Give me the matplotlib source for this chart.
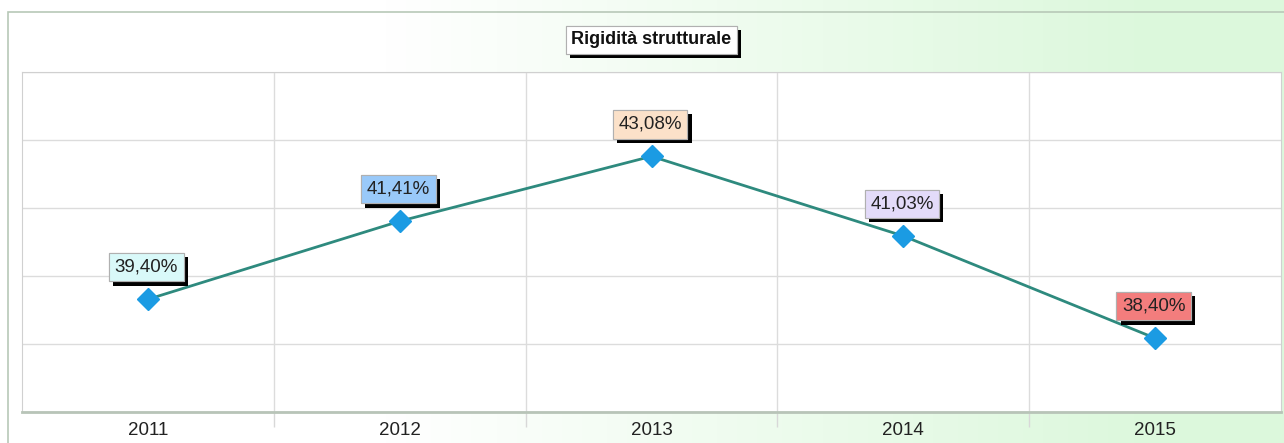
import matplotlib
matplotlib.use('Agg')
import matplotlib.pyplot as plt
import matplotlib.patheffects as pe
import numpy as np

plt.rcParams['font.family'] = ['Liberation Sans', 'DejaVu Sans']

# Data
years = ['2011', '2012', '2013', '2014', '2015']
values = [39.40, 41.41, 43.08, 41.03, 38.40]
label_colors = ['#d9f9f9', '#99c9f9', '#fbe1c9', '#e3dbf9', '#f37d7d']
title = 'Rigidità strutturale'

W, H = 1284, 443
fig = plt.figure(figsize=(W / 100, H / 100), dpi=100)

# background gradient (white -> pale green)
bg = fig.add_axes([0, 0, 1, 1])
grad = np.linspace(0, 1, 256)
grad = np.clip((grad - 0.3) / 0.6, 0, 1)
c0 = np.array([1.0, 1.0, 1.0])
c1 = np.array([0xdc, 0xf8, 0xdc]) / 255
img = c0[None, None, :] * (1 - grad[None, :, None]) + c1[None, None, :] * grad[None, :, None]
bg.imshow(img, aspect='auto', extent=[0, 1, 0, 1])
bg.add_patch(plt.Rectangle((8 / W, -0.1), 1.2, 1 - 12 / H + 0.1, fill=False,
                           edgecolor='#b8c8b8', lw=1.2, transform=bg.transAxes))
bg.set_xlim(0, 1)
bg.set_ylim(0, 1)
bg.axis('off')

# plot area
ax = fig.add_axes([22 / W, (H - 412) / H, (1281 - 22) / W, (412 - 72) / H])
ax.set_facecolor('white')
x = np.arange(len(years))
ax.plot(x, values, color='#2e8a7e', lw=2, marker='D', markersize=11,
        markerfacecolor='#1b9be3', markeredgecolor='#1b9be3', zorder=3)

ax.set_xlim(-0.5, len(years) - 0.5)
ax.set_ylim(36.5, 45.25)
ax.set_yticks(np.arange(36.5, 45.3, 1.75))
ax.set_yticklabels([])
ax.tick_params(axis='y', length=0)
ax.set_xticks(x)
ax.set_xticklabels(years, fontsize=13.5, color='#222222')
ax.tick_params(axis='x', which='major', length=0, pad=7)
ax.set_xticks(np.arange(0.5, len(years) - 0.5, 1), minor=True)
ax.tick_params(axis='x', which='minor', length=11, color='#d8d8d8', width=1)
ax.grid(True, axis='y', color='#dcdcdc', lw=1)
ax.grid(True, axis='x', which='minor', color='#dcdcdc', lw=1)
ax.set_axisbelow(True)
for side in ['top', 'right', 'left']:
    ax.spines[side].set_color('#d0d0d0')
ax.spines['bottom'].set_color('#b8c4b8')
ax.spines['bottom'].set_linewidth(2)

shadow = [pe.withSimplePatchShadow(offset=(3, -3), shadow_rgbFace='black', alpha=1),
          pe.Normal()]

for xi, v, c in zip(x, values, label_colors):
    t = ax.annotate(f'{v:.2f}%'.replace('.', ','), (xi, v), xytext=(-1, 23),
                    textcoords='offset points', ha='center', va='center',
                    fontsize=13.5, color='#222222', zorder=4,
                    bbox=dict(boxstyle='square,pad=0.3', fc=c, ec='#b0b0b0', lw=0.8))
    t.get_bbox_patch().set_path_effects(shadow)

tt = fig.text(651.5 / W, 1 - 40 / H, title, ha='center', va='center',
              fontsize=13, fontweight='bold', color='#111111',
              bbox=dict(boxstyle='square,pad=0.3', fc='white', ec='#b0b0b0', lw=0.8))
tt.get_bbox_patch().set_path_effects(shadow)

fig.savefig('out.png', dpi=100)
